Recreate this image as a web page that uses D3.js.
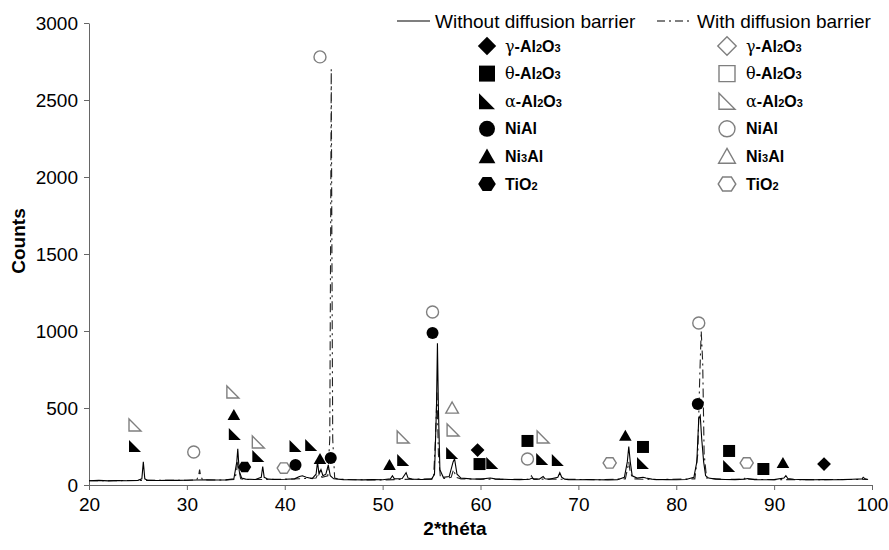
<!DOCTYPE html>
<html>
<head>
<meta charset="utf-8">
<script src="https://cdn.jsdelivr.net/npm/d3@7/dist/d3.min.js"></script>
<style>
  body { margin: 0; background: #fff; }
  text { font-family: "Liberation Sans", Arial, sans-serif; }
</style>
</head>
<body>
<div id="chart"></div>
<script>

// ************** data *********************************************
// [2*theta, counts]
var withoutBarrier = [
  [20.0,28],[21,30],[22,27],[23,29],[24,28],[25,30],[25.4,40],[25.55,150],[25.7,40],[26,30],
  [27,29],[28,31],[29,30],[30,31],[31,32],[32,33],[33,32],[34,33],[34.8,40],[35.1,150],
  [35.2,235],[35.35,90],[35.6,45],[36,38],[37,36],[37.6,50],[37.75,120],[37.9,50],[38.3,38],[39,36],
  [40,37],[41,40],[41.5,55],[41.8,60],[42.2,50],[42.8,42],[43.2,70],[43.35,150],[43.5,70],[43.7,100],
  [43.9,60],[44.2,70],[44.45,130],[44.65,60],[45,40],[46,35],[47,34],[48,33],[49,35],[50,34],
  [50.8,40],[51,60],[51.2,40],[52,42],[52.4,80],[52.6,45],[53,38],[54,36],[55,38],[55.3,70],
  [55.5,500],[55.6,920],[55.7,500],[55.85,100],[56.2,50],[56.8,55],[57.2,150],[57.35,170],[57.6,70],[58,45],
  [59,40],[60,38],[61,45],[61.5,40],[62,38],[63,36],[64,35],[65,37],[65.3,45],[65.5,38],
  [66,38],[66.4,55],[66.6,40],[67,37],[67.9,50],[68.1,80],[68.3,50],[68.6,38],[69,35],[70,34],
  [71,35],[72,34],[73,33],[74,34],[74.7,50],[75,150],[75.15,250],[75.3,150],[75.5,60],[76,45],
  [76.6,50],[76.9,45],[77.5,38],[78,36],[79,35],[80,34],[81,36],[81.8,50],[82.1,150],[82.3,430],
  [82.45,450],[82.6,300],[82.8,150],[83,60],[83.3,45],[84,38],[85,36],[86,35],[87,38],[87.3,42],
  [88,35],[89,34],[90,35],[91,45],[91.2,60],[91.4,42],[92,37],[93,35],[94,34],[95,35],
  [96,34],[97,35],[98,37],[99,40],[99.1,50],[99.3,40],[99.6,36]
];

var withBarrier = [
  [20,28],[22,28],[24,29],[26,30],[28,30],[30,31],[31.0,33],[31.2,60],[31.3,100],[31.4,60],
  [31.6,34],[32,32],[34,33],[34.9,36],[35.1,100],[35.2,150],[35.3,100],[35.5,40],[36,36],[38,36],
  [40,37],[42,42],[43.2,45],[43.5,90],[43.8,50],[44.4,60],[44.6,300],[44.68,1500],[44.75,2700],[44.82,1500],
  [44.9,300],[45.1,45],[45.5,38],[47,34],[50,33],[52,36],[55.2,40],[55.4,300],[55.55,600],[55.7,200],
  [55.9,50],[56.3,42],[57.0,50],[57.25,100],[57.5,50],[58,40],[60,38],[63,36],[65.0,38],[65.2,60],
  [65.4,38],[68,38],[72,34],[74.8,40],[75.0,100],[75.15,150],[75.3,80],[75.6,40],[78,35],[81.9,40],
  [82.2,200],[82.4,700],[82.55,1000],[82.7,800],[82.85,200],[83.1,45],[85,36],[86.9,38],[87.1,50],[87.3,37],
  [90,35],[95,35],[99.5,36]
];

var xTicks = [20, 30, 40, 50, 60, 70, 80, 90, 100];
var yTicks = [0, 500, 1000, 1500, 2000, 2500, 3000];

// phase order used by the legend
var phases = ["gamma", "theta", "alpha", "NiAl", "Ni3Al", "TiO2"];
// label pieces: [greek, text, sub, text, sub]
var phaseLabels = [
  ["γ", "-Al", "2", "O", "3"],
  ["θ", "-Al", "2", "O", "3"],
  ["α", "-Al", "2", "O", "3"],
  ["", "NiAl", "", "", ""],
  ["", "Ni", "3", "Al", ""],
  ["", "TiO", "2", "", ""]
];

// peak markers: [phase, 2*theta, counts]
var markersWithout = [
  ["alpha",24.7,253],["Ni3Al",34.8,455],["alpha",34.9,331],["TiO2",35.9,117],["alpha",37.3,188],
  ["NiAl",41.1,130],["alpha",41.1,253],["alpha",42.7,260],["Ni3Al",43.6,169],["NiAl",44.7,175],
  ["Ni3Al",50.7,130],["alpha",52.1,162],["NiAl",55.1,987],["alpha",57.1,208],["gamma",59.7,227],
  ["theta",59.9,136],["alpha",61.2,143],["theta",64.8,286],["alpha",66.3,169],["alpha",67.9,162],
  ["Ni3Al",74.8,320],["theta",76.6,247],["alpha",76.6,143],["NiAl",82.2,526],["theta",85.4,221],
  ["alpha",85.4,123],["theta",88.9,104],["Ni3Al",90.9,143],["gamma",95.1,136]
];

var markersWith = [
  ["alpha",24.7,390],["NiAl",30.7,214],["alpha",34.7,604],["alpha",37.3,279],["TiO2",39.9,110],
  ["NiAl",43.6,2780],["alpha",52.1,312],["NiAl",55.1,1123],["Ni3Al",57.1,500],["alpha",57.2,357],
  ["NiAl",64.8,169],["alpha",66.4,312],["TiO2",73.2,143],["NiAl",82.3,1052],["TiO2",87.2,143]
];

// ************** chart *****************
var margin = { top: 23, right: 17, bottom: 65, left: 89 },
    width = 889 - margin.left - margin.right,
    height = 550 - margin.top - margin.bottom;

var svg = d3.select("#chart").append("svg")
    .attr("width", 889)
    .attr("height", 550)
    .append("g")
    .attr("transform", "translate(" + margin.left + "," + margin.top + ")");

var x = d3.scaleLinear().domain([20, 100]).range([0, width]);
var y = d3.scaleLinear().domain([0, 3000]).range([height, 0]);

// symbol path for a phase, s = half size
function symbolPath(type, s) {
    switch (type) {
        case "gamma":
            return "M0," + (-s * 1.15) + "L" + (s * 1.15) + ",0L0," + (s * 1.15) + "L" + (-s * 1.15) + ",0Z";
        case "theta":
            return "M" + (-s) + "," + (-s) + "H" + s + "V" + s + "H" + (-s) + "Z";
        case "alpha":
            return "M" + (-s) + "," + (-s) + "L" + (-s) + "," + s + "L" + s + "," + s + "Z";
        case "NiAl":
            return "M" + s + ",0A" + s + "," + s + " 0 1,1 " + (-s) + ",0A" + s + "," + s + " 0 1,1 " + s + ",0Z";
        case "Ni3Al":
            return "M0," + (-s) + "L" + (s * 1.05) + "," + (s * 0.85) + "L" + (-s * 1.05) + "," + (s * 0.85) + "Z";
        case "TiO2":
            var p = [];
            for (var k = 0; k < 6; k++) {
                var a = Math.PI / 3 * k;
                p.push([Math.cos(a) * s * 1.1, Math.sin(a) * s]);
            }
            return "M" + p.map(function (q) { return q[0] + "," + q[1]; }).join("L") + "Z";
    }
}

var line = d3.line()
    .x(function (d) { return x(d[0]); })
    .y(function (d) { return y(d[1]); });

// axes
var yAxis = svg.append("g")
    .call(d3.axisLeft(y).tickValues(yTicks).tickFormat(d3.format("d"))
        .tickSize(5).tickSizeOuter(0).tickPadding(6));
var xAxis = svg.append("g")
    .attr("transform", "translate(0," + height + ")")
    .call(d3.axisBottom(x).tickValues(xTicks).tickFormat(d3.format("d"))
        .tickSize(5).tickSizeOuter(0).tickPadding(8));

[yAxis, xAxis].forEach(function (ax) {
    ax.selectAll("path, line").attr("stroke", "#666");
    ax.selectAll("text")
        .attr("fill", "#000")
        .style("font-size", "19px")
        .style("font-family", "'Liberation Sans', Arial, sans-serif");
});

// with barrier (dash-dot) under, without barrier (solid) on top
svg.append("path")
    .datum(withBarrier)
    .attr("fill", "none")
    .attr("stroke", "#222")
    .attr("stroke-width", 1.1)
    .attr("stroke-dasharray", "9,4,2,4")
    .attr("d", line);

svg.append("path")
    .datum(withoutBarrier)
    .attr("fill", "none")
    .attr("stroke", "#000")
    .attr("stroke-width", 1.1)
    .attr("d", line);

// peak markers
svg.selectAll("path.mk-open")
    .data(markersWith)
    .enter().append("path")
    .attr("class", "mk-open")
    .attr("transform", function (d) { return "translate(" + x(d[1]) + "," + y(d[2]) + ")"; })
    .attr("d", function (d) { return symbolPath(d[0], 6); })
    .attr("fill", "#fff")
    .attr("stroke", "#7f7f7f")
    .attr("stroke-width", 1.4);

svg.selectAll("path.mk-fill")
    .data(markersWithout)
    .enter().append("path")
    .attr("class", "mk-fill")
    .attr("transform", function (d) { return "translate(" + x(d[1]) + "," + y(d[2]) + ")"; })
    .attr("d", function (d) { return symbolPath(d[0], 6); })
    .attr("fill", "#000");

// axis titles
svg.append("text")
    .attr("transform", "translate(" + (-71) + "," + 218 + ") rotate(-90)")
    .attr("text-anchor", "middle")
    .attr("dy", "0.35em")
    .style("font-size", "19px")
    .style("font-weight", "bold")
    .text("Counts");

svg.append("text")
    .attr("x", 455 - margin.left)
    .attr("y", height + 50)
    .attr("text-anchor", "middle")
    .style("font-size", "19px")
    .style("font-weight", "bold")
    .text("2*théta");

// ************** legend *****************
var legend = svg.append("g").attr("transform", "translate(" + (-margin.left) + "," + (-margin.top) + ")");

legend.append("line")
    .attr("x1", 397).attr("x2", 430).attr("y1", 21).attr("y2", 21)
    .attr("stroke", "#000").attr("stroke-width", 1.1);
legend.append("text")
    .attr("x", 435).attr("y", 21).attr("dy", "0.35em")
    .style("font-size", "19px")
    .text("Without diffusion barrier");

legend.append("line")
    .attr("x1", 657).attr("x2", 689).attr("y1", 21).attr("y2", 21)
    .attr("stroke", "#000").attr("stroke-width", 1.1)
    .attr("stroke-dasharray", "8,4,2,4");
legend.append("text")
    .attr("x", 697).attr("y", 21).attr("dy", "0.35em")
    .style("font-size", "19px")
    .text("With diffusion barrier");

var rowY = function (i) { return 46 + i * 27.6; };

function addLabel(g, lx, ly, parts) {
    var t = g.append("text")
        .attr("x", lx).attr("y", ly).attr("dy", "0.35em")
        .style("font-size", "16px")
        .style("font-weight", "bold");
    if (parts[0]) t.append("tspan").style("font-family", "'DejaVu Serif', serif").style("font-weight", "normal").text(parts[0]);
    t.append("tspan").text(parts[1]);
    if (parts[2]) t.append("tspan").style("font-size", "11px").text(parts[2]);
    if (parts[3]) t.append("tspan").text(parts[3]);
    if (parts[4]) t.append("tspan").style("font-size", "11px").text(parts[4]);
}

phases.forEach(function (p, i) {
    legend.append("path")
        .attr("transform", "translate(487," + rowY(i) + ")")
        .attr("d", symbolPath(p, 8))
        .attr("fill", "#000");
    addLabel(legend, 505, rowY(i), phaseLabels[i]);

    legend.append("path")
        .attr("transform", "translate(727," + rowY(i) + ")")
        .attr("d", symbolPath(p, 8))
        .attr("fill", "#fff")
        .attr("stroke", "#7f7f7f")
        .attr("stroke-width", 1.4);
    addLabel(legend, 746, rowY(i), phaseLabels[i]);
});

</script>
</body>
</html>
